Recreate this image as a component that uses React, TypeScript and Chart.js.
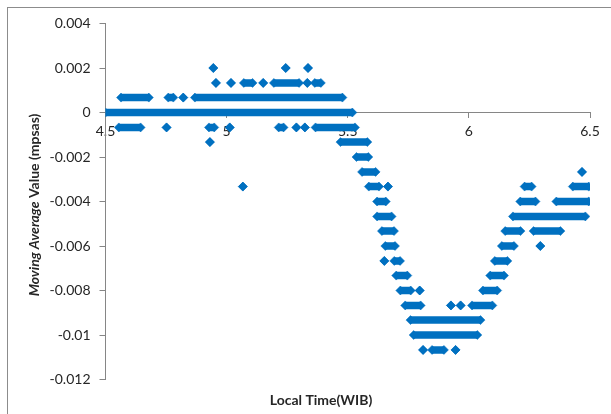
import React, { useEffect, useRef } from 'react';
import { Chart, registerables } from 'chart.js';

Chart.register(...registerables);

const SERIES_COLOR = '#0070C0';

// Quantized moving-average levels (mpsas)
const levelValues: number[] = [
  0.002, 0.00133, 0.00067, 0, -0.00067, -0.00133, -0.002, -0.00267, -0.00333, -0.004,
  -0.00467, -0.00533, -0.006, -0.00667, -0.00733, -0.008, -0.00867, -0.00933, -0.01, -0.01067,
];

// For each level: runs of consecutive samples [first time, last time] (hours, WIB)
const levelRuns: number[][][] = [
  [[4.945, 4.945], [5.244, 5.244], [5.336, 5.336]],
  [[4.956, 4.956], [5.018, 5.018], [5.071, 5.107], [5.151, 5.151], [5.195, 5.299], [5.333, 5.333], [5.364, 5.389]],
  [[4.564, 4.679], [4.759, 4.78], [4.821, 4.821], [4.869, 5.478]],
  [[4.5, 5.519]],
  [[4.555, 4.645], [4.752, 4.752], [4.927, 4.949], [5.013, 5.013], [5.215, 5.235], [5.288, 5.288], [5.323, 5.323], [5.367, 5.53]],
  [[4.931, 4.931], [5.47, 5.581]],
  [[5.536, 5.585]],
  [[5.559, 5.615], [6.467, 6.467]],
  [[5.067, 5.067], [5.587, 5.629], [5.666, 5.666], [6.23, 6.259], [6.429, 6.495]],
  [[5.621, 5.657], [6.212, 6.275], [6.361, 6.495]],
  [[5.621, 5.681], [6.182, 6.481]],
  [[5.641, 5.691], [6.15, 6.213], [6.267, 6.378]],
  [[5.655, 5.695], [6.136, 6.186], [6.295, 6.295]],
  [[5.651, 5.651], [5.692, 5.716], [6.107, 6.159]],
  [[5.7, 5.746], [6.088, 6.145]],
  [[5.717, 5.76], [5.797, 5.797], [6.058, 6.117]],
  [[5.737, 5.801], [5.926, 5.926], [5.966, 5.966], [6.013, 6.097]],
  [[5.759, 6.048]],
  [[5.772, 6.035]],
  [[5.811, 5.811], [5.848, 5.897], [5.945, 5.945]],
];

const xTickValues = [4.5, 5, 5.5, 6, 6.5];
const xTickLabels = ['4.5', '5', '5.5', '6', '6.5'];
const yTickValues = [0.004, 0.002, 0, -0.002, -0.004, -0.006, -0.008, -0.01, -0.012];
const yTickLabels = ['0.004', '0.002', '0', '-0.002', '-0.004', '-0.006', '-0.008', '-0.01', '-0.012'];

const xTitle = 'Local Time(WIB)';
const yTitleItalic = 'Moving Average';
const yTitleRest = ' Value (mpsas)';

const FONT = 'Lato, "Open Sans", sans-serif';
const TEXT_COLOR = '#262626';
const AXIS_COLOR = '#868686';

const titlesPlugin = {
  id: 'axisTitles',
  afterDraw(chart: any) {
    const ctx = chart.ctx as CanvasRenderingContext2D;
    const area = chart.chartArea;
    ctx.save();
    ctx.fillStyle = TEXT_COLOR;
    ctx.font = `bold 14px ${FONT}`;
    ctx.textAlign = 'center';
    ctx.textBaseline = 'middle';
    ctx.fillText(xTitle, 321, area.bottom + 21);

    const fItalic = `italic bold 14px ${FONT}`;
    const fBold = `bold 14px ${FONT}`;
    ctx.font = fItalic;
    const w1 = ctx.measureText(yTitleItalic).width;
    ctx.font = fBold;
    const w2 = ctx.measureText(yTitleRest).width;
    ctx.translate(34, 205);
    ctx.rotate(-Math.PI / 2);
    ctx.textAlign = 'left';
    const x0 = -(w1 + w2) / 2;
    ctx.font = fItalic;
    ctx.fillText(yTitleItalic, x0, 0);
    ctx.font = fBold;
    ctx.fillText(yTitleRest, x0 + w1, 0);
    ctx.restore();
  },
};

export default function App() {
  const canvasRef = useRef<HTMLCanvasElement | null>(null);

  useEffect(() => {
    const canvas = canvasRef.current;
    if (!canvas) return;

    const datasets = levelValues.map((y, i) => {
      const data: { x: number; y: number | null }[] = [];
      levelRuns[i].forEach(([s, e]) => {
        data.push({ x: s, y });
        data.push({ x: e, y });
        data.push({ x: e, y: null });
      });
      return {
        label: `level ${i}`,
        data,
        showLine: true,
        spanGaps: false,
        borderColor: SERIES_COLOR,
        backgroundColor: SERIES_COLOR,
        borderWidth: 7.5,
        borderCapStyle: 'butt' as const,
        pointStyle: 'rectRot' as const,
        pointRadius: 4.5,
        pointHoverRadius: 4.5,
        pointBorderWidth: 0.5,
        pointBorderColor: SERIES_COLOR,
        pointBackgroundColor: SERIES_COLOR,
      };
    });

    const chart = new Chart(canvas, {
      type: 'scatter',
      data: { datasets },
      options: {
        animation: false,
        responsive: false,
        maintainAspectRatio: false,
        events: [],
        layout: { padding: { left: 0, top: 23.5, right: 21, bottom: 34.5 } },
        plugins: {
          legend: { display: false },
          tooltip: { enabled: false },
          title: { display: false },
        },
        scales: {
          x: {
            type: 'linear',
            position: { y: 0 } as any,
            min: 4.5,
            max: 6.5,
            afterBuildTicks: (scale: any) => {
              scale.ticks = xTickValues.map((v) => ({ value: v }));
            },
            ticks: {
              callback: (_v: any, i: number) => xTickLabels[i],
              font: { family: FONT, size: 14 },
              color: TEXT_COLOR,
              padding: 6,
              maxRotation: 0,
              autoSkip: false,
            },
            grid: { drawOnChartArea: false, drawTicks: true, tickLength: 5, color: AXIS_COLOR, lineWidth: 1 },
            border: { display: true, color: AXIS_COLOR, width: 1 },
          },
          y: {
            type: 'linear',
            position: 'left',
            min: -0.012,
            max: 0.004,
            afterBuildTicks: (scale: any) => {
              scale.ticks = yTickValues.map((v) => ({ value: v }));
            },
            afterFit: (scale: any) => {
              scale.width = 105.5;
            },
            ticks: {
              callback: (_v: any, i: number) => yTickLabels[i],
              font: { family: FONT, size: 14 },
              color: TEXT_COLOR,
              padding: 9,
              autoSkip: false,
            },
            grid: { drawOnChartArea: false, drawTicks: true, tickLength: 6, color: AXIS_COLOR, lineWidth: 1 },
            border: { display: true, color: AXIS_COLOR, width: 1 },
          },
        },
      },
      plugins: [titlesPlugin],
    });

    return () => chart.destroy();
  }, []);

  return (
    <div style={{ position: 'fixed', left: 0, top: 0, width: 611, height: 414, background: '#fff', overflow: 'hidden' }}>
      <div
        style={{
          position: 'absolute',
          left: 7,
          top: 7,
          width: 640,
          height: 440,
          borderLeft: '1px solid #8c8c8c',
          borderTop: '1px solid #8c8c8c',
          boxSizing: 'border-box',
        }}
      />
      <canvas ref={canvasRef} width={611} height={414} style={{ position: 'absolute', left: 0, top: 0, width: 611, height: 414 }} />
    </div>
  );
}
